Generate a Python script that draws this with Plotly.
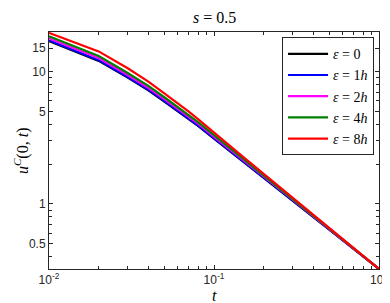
import plotly.graph_objects as go

t = [0.01, 0.02, 0.03, 0.04, 0.05, 0.06, 0.07, 0.08, 0.1, 0.12, 0.15, 0.2, 0.3, 0.5, 0.7, 1.0]
u_eps0 = [17.0, 12.05, 9.0, 7.22, 5.94, 5.05, 4.41, 3.89, 3.12, 2.61, 2.1, 1.585, 1.062, 0.641, 0.458, 0.323]
u_eps1h = [17.2, 12.2, 9.1, 7.3, 6.0, 5.1, 4.45, 3.92, 3.14, 2.63, 2.11, 1.59, 1.065, 0.642, 0.459, 0.323]
u_eps2h = [17.8, 12.65, 9.42, 7.55, 6.2, 5.28, 4.6, 4.05, 3.23, 2.7, 2.16, 1.62, 1.08, 0.647, 0.461, 0.323]
u_eps4h = [18.5, 13.1, 9.75, 7.8, 6.4, 5.43, 4.72, 4.15, 3.31, 2.76, 2.2, 1.65, 1.09, 0.652, 0.463, 0.323]
u_eps8h = [19.6, 14.2, 10.6, 8.4, 6.85, 5.8, 5.0, 4.37, 3.45, 2.87, 2.27, 1.69, 1.11, 0.66, 0.465, 0.323]

series = [
    ("<i>ε</i> = 0", u_eps0, "#000000"),
    ("<i>ε</i> = 1<i>h</i>", u_eps1h, "#0000ff"),
    ("<i>ε</i> = 2<i>h</i>", u_eps2h, "#ff00ff"),
    ("<i>ε</i> = 4<i>h</i>", u_eps4h, "#008000"),
    ("<i>ε</i> = 8<i>h</i>", u_eps8h, "#ff0000"),
]

x_tickvals = [0.01, 0.1, 1.0]
x_ticktext = ["10<sup>-2</sup>", "10<sup>-1</sup>", "10<sup>0</sup>"]
x_minor = [0.02, 0.03, 0.04, 0.05, 0.06, 0.07, 0.08, 0.09,
           0.2, 0.3, 0.4, 0.5, 0.6, 0.7, 0.8, 0.9]
y_tickvals = [0.5, 1, 5, 10, 15]
y_ticktext = ["0.5", "1", "5", "10", "15"]
y_minor = [0.4, 0.6, 0.7, 0.8, 0.9, 2, 3, 4, 6, 7, 8, 9]

fig = go.Figure()
for name, vals, color in series:
    fig.add_trace(go.Scatter(x=t, y=vals, mode="lines", name=name,
                             line=dict(color=color, width=2.2)))

axis_common = dict(
    showgrid=False, zeroline=False, showline=True, linecolor="#262626", linewidth=1,
    mirror="ticks", ticks="inside", ticklen=4, tickcolor="#262626",
    tickfont=dict(family="Liberation Sans, Arial", size=12, color="#262626"),
)
fig.update_xaxes(type="log", range=[-2, 0], tickvals=x_tickvals, ticktext=x_ticktext,
                 minor=dict(tickvals=x_minor, ticks="inside", ticklen=3, tickcolor="#262626"),
                 **axis_common)
fig.update_yaxes(type="log", range=[-0.491, 1.299], tickvals=y_tickvals, ticktext=y_ticktext,
                 minor=dict(tickvals=y_minor, ticks="inside", ticklen=3, tickcolor="#262626"),
                 **axis_common)

fig.update_layout(
    width=390, height=303,
    margin=dict(l=41, r=10, t=24, b=42),
    plot_bgcolor="white", paper_bgcolor="white",
    showlegend=True,
    legend=dict(x=0.985, y=0.978, xanchor="right", yanchor="top",
                bgcolor="white", bordercolor="#262626", borderwidth=1,
                font=dict(family="Liberation Serif, DejaVu Serif", size=14, color="black"),
                tracegroupgap=0, itemwidth=40),
    annotations=[
        dict(text="<i>s</i> = 0.5", x=0.5, y=1.0, xref="paper", yref="paper",
             xanchor="center", yanchor="bottom", yshift=4, showarrow=False,
             font=dict(family="Liberation Serif, DejaVu Serif", size=16, color="black")),
        dict(text="<i>u</i><sup><i>C</i></sup>(0, <i>t</i>)", x=-0.083, y=0.5,
             xref="paper", yref="paper", textangle=-90, showarrow=False,
             xanchor="center", yanchor="middle",
             font=dict(family="Liberation Serif, DejaVu Serif", size=16, color="black")),
        dict(text="<i>t</i>", x=0.5, y=-0.11, xref="paper", yref="paper",
             xanchor="center", yanchor="middle", showarrow=False,
             font=dict(family="Liberation Serif, DejaVu Serif", size=16, color="black")),
    ],
)

fig.write_html("out.html")
